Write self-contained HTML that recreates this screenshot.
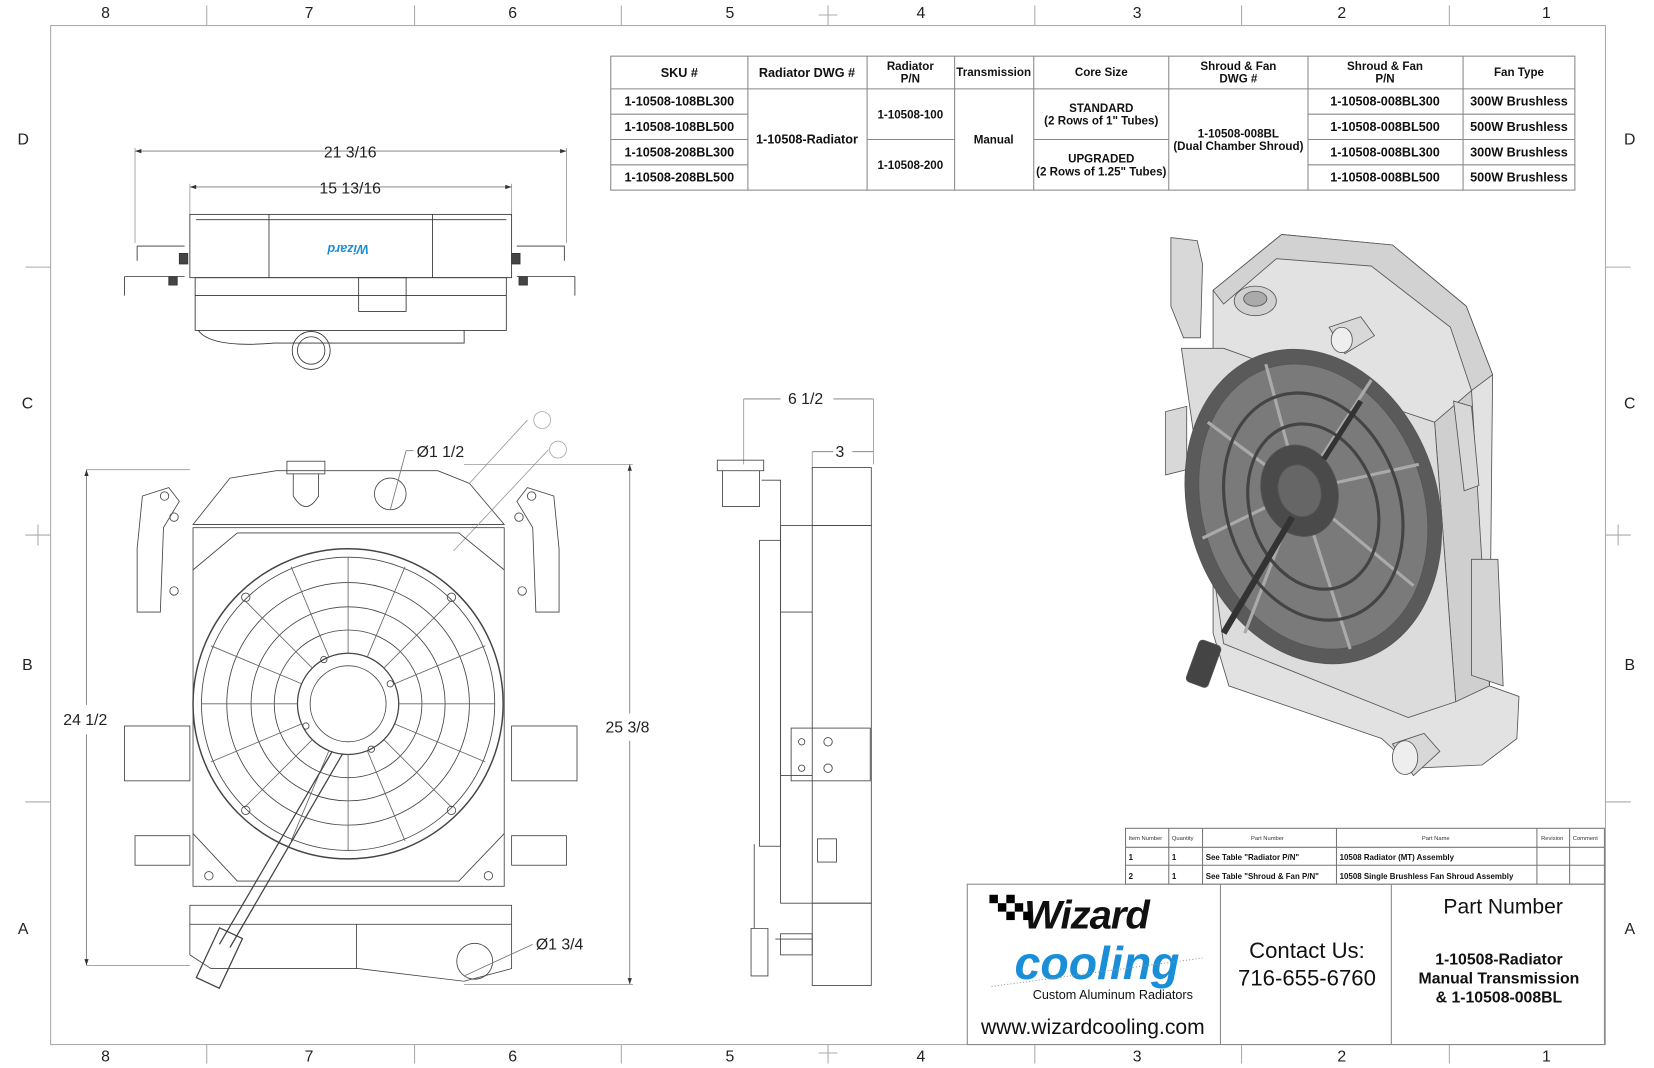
<!DOCTYPE html>
<html><head><meta charset="utf-8"><style>
html,body{margin:0;padding:0;background:#fff;}
svg{display:block;}
text{font-family:"Liberation Sans",Arial,sans-serif;}
</style></head><body>
<svg width="1654" height="1068" viewBox="0 0 1568 1012" xmlns="http://www.w3.org/2000/svg">
<rect width="1568" height="1012" fill="#fff"/>
<!-- border -->
<rect x="48" y="24" width="1474" height="966" fill="none" stroke="#aaa" stroke-width="1"/>
<g stroke="#aaa" stroke-width="1">
<line x1="196" y1="5" x2="196" y2="24"/><line x1="393" y1="5" x2="393" y2="24"/><line x1="589" y1="5" x2="589" y2="24"/><line x1="981" y1="5" x2="981" y2="24"/><line x1="1177" y1="5" x2="1177" y2="24"/><line x1="1374" y1="5" x2="1374" y2="24"/>
<line x1="196" y1="990" x2="196" y2="1008"/><line x1="393" y1="990" x2="393" y2="1008"/><line x1="589" y1="990" x2="589" y2="1008"/><line x1="981" y1="990" x2="981" y2="1008"/><line x1="1177" y1="990" x2="1177" y2="1008"/><line x1="1374" y1="990" x2="1374" y2="1008"/>
<line x1="785" y1="5" x2="785" y2="24"/><line x1="776" y1="14" x2="794" y2="14"/><line x1="785" y1="990" x2="785" y2="1008"/><line x1="776" y1="998" x2="794" y2="998"/>
<line x1="24" y1="253" x2="48" y2="253"/><line x1="24" y1="760" x2="48" y2="760"/><line x1="1522" y1="253" x2="1546" y2="253"/><line x1="1522" y1="760" x2="1546" y2="760"/>
<line x1="24" y1="507" x2="48" y2="507"/><line x1="36" y1="497" x2="36" y2="517"/><line x1="1522" y1="507" x2="1546" y2="507"/><line x1="1534" y1="497" x2="1534" y2="517"/>
</g>
<g font-size="15" fill="#222" text-anchor="middle">
<text x="100" y="17">8</text><text x="293" y="17">7</text><text x="486" y="17">6</text><text x="692" y="17">5</text><text x="873" y="17">4</text><text x="1078" y="17">3</text><text x="1272" y="17">2</text><text x="1466" y="17">1</text>
<text x="100" y="1006">8</text><text x="293" y="1006">7</text><text x="486" y="1006">6</text><text x="692" y="1006">5</text><text x="873" y="1006">4</text><text x="1078" y="1006">3</text><text x="1272" y="1006">2</text><text x="1466" y="1006">1</text>
<text x="22" y="137">D</text><text x="26" y="387">C</text><text x="26" y="635">B</text><text x="22" y="885">A</text>
<text x="1545" y="137">D</text><text x="1545" y="387">C</text><text x="1545" y="635">B</text><text x="1545" y="885">A</text>
</g>

<!-- SKU table -->
<g stroke="#888" stroke-width="1" fill="none">
<rect x="579" y="53" width="914" height="127"/>
<line x1="579" y1="84" x2="1493" y2="84"/>
<line x1="579" y1="108" x2="709" y2="108"/><line x1="579" y1="132" x2="709" y2="132"/><line x1="579" y1="156" x2="709" y2="156"/>
<line x1="1240" y1="108" x2="1493" y2="108"/><line x1="1240" y1="132" x2="1493" y2="132"/><line x1="1240" y1="156" x2="1493" y2="156"/>
<line x1="822" y1="132" x2="905" y2="132"/><line x1="980" y1="132" x2="1108" y2="132"/>
<line x1="709" y1="53" x2="709" y2="180"/><line x1="822" y1="53" x2="822" y2="180"/><line x1="905" y1="53" x2="905" y2="180"/><line x1="980" y1="53" x2="980" y2="180"/><line x1="1108" y1="53" x2="1108" y2="180"/><line x1="1240" y1="53" x2="1240" y2="180"/><line x1="1387" y1="53" x2="1387" y2="180"/>
</g>
<g font-size="12" fill="#111" text-anchor="middle" font-weight="bold">
<text x="644" y="73">SKU #</text><text x="765" y="73">Radiator DWG #</text>
<text x="863" y="66" font-size="11">Radiator</text><text x="863" y="78" font-size="11">P/N</text>
<text x="942" y="72" font-size="11">Transmission</text><text x="1044" y="72" font-size="11">Core Size</text>
<text x="1174" y="66" font-size="11">Shroud &amp; Fan</text><text x="1174" y="78" font-size="11">DWG #</text>
<text x="1313" y="66" font-size="11">Shroud &amp; Fan</text><text x="1313" y="78" font-size="11">P/N</text>
<text x="1440" y="72" font-size="11">Fan Type</text>
<text x="644" y="100">1-10508-108BL300</text><text x="644" y="124">1-10508-108BL500</text><text x="644" y="148">1-10508-208BL300</text><text x="644" y="172">1-10508-208BL500</text>
<text x="765" y="136">1-10508-Radiator</text>
<text x="863" y="112" font-size="11">1-10508-100</text><text x="863" y="160" font-size="11">1-10508-200</text>
<text x="942" y="136" font-size="11">Manual</text>
<text x="1044" y="106" font-size="11">STANDARD</text><text x="1044" y="118" font-size="11">(2 Rows of 1" Tubes)</text>
<text x="1044" y="154" font-size="11">UPGRADED</text><text x="1044" y="166" font-size="11">(2 Rows of 1.25" Tubes)</text>
<text x="1174" y="130" font-size="11">1-10508-008BL</text><text x="1174" y="142" font-size="11">(Dual Chamber Shroud)</text>
<text x="1313" y="100">1-10508-008BL300</text><text x="1313" y="124">1-10508-008BL500</text><text x="1313" y="148">1-10508-008BL300</text><text x="1313" y="172">1-10508-008BL500</text>
<text x="1440" y="100">300W Brushless</text><text x="1440" y="124">500W Brushless</text><text x="1440" y="148">300W Brushless</text><text x="1440" y="172">500W Brushless</text>
</g>

<!-- BOM -->
<g stroke="#777" stroke-width="1" fill="none">
<rect x="1067" y="785" width="454" height="53"/>
<line x1="1067" y1="803" x2="1521" y2="803"/><line x1="1067" y1="820" x2="1521" y2="820"/>
<line x1="1108" y1="785" x2="1108" y2="838"/><line x1="1140" y1="785" x2="1140" y2="838"/><line x1="1267" y1="785" x2="1267" y2="838"/><line x1="1457" y1="785" x2="1457" y2="838"/><line x1="1488" y1="785" x2="1488" y2="838"/>
</g>
<g font-size="5.5" fill="#333">
<text x="1070" y="796">Item Number</text><text x="1111" y="796">Quantity</text><text x="1186" y="796">Part Number</text><text x="1348" y="796">Part Name</text><text x="1461" y="796">Revision</text><text x="1491" y="796">Comment</text>
</g>
<g font-size="7.5" fill="#111" font-weight="bold">
<text x="1070" y="815">1</text><text x="1111" y="815">1</text><text x="1143" y="815">See Table "Radiator P/N"</text><text x="1270" y="815">10508 Radiator (MT) Assembly</text>
<text x="1070" y="833">2</text><text x="1111" y="833">1</text><text x="1143" y="833">See Table "Shroud &amp; Fan P/N"</text><text x="1270" y="833">10508 Single Brushless Fan Shroud Assembly</text>
</g>

<!-- title block -->
<g stroke="#888" stroke-width="1" fill="none">
<rect x="917" y="838" width="604" height="152"/>
<line x1="1157" y1="838" x2="1157" y2="990"/><line x1="1319" y1="838" x2="1319" y2="990"/>
</g>
<text x="1030" y="880" font-size="38" font-weight="bold" font-style="italic" fill="#111" text-anchor="middle" letter-spacing="-1">Wizard</text>
<g fill="#000"><rect x="938" y="848" width="8" height="8"/><rect x="954" y="848" width="8" height="8"/><rect x="946" y="856" width="8" height="8"/><rect x="962" y="856" width="8" height="8"/><rect x="954" y="864" width="8" height="8"/><rect x="970" y="864" width="8" height="8"/></g>
<text x="1040" y="928" font-size="44" font-style="italic" font-weight="bold" fill="#1a8fd8" text-anchor="middle" font-family="Liberation Serif,serif">cooling</text>
<line x1="940" y1="935" x2="1140" y2="908" stroke="#999" stroke-dasharray="1,2"/>
<text x="1055" y="947" font-size="12" fill="#111" text-anchor="middle">Custom Aluminum Radiators</text>
<text x="1036" y="980" font-size="20" fill="#111" text-anchor="middle">www.wizardcooling.com</text>
<text x="1239" y="908" font-size="21" fill="#111" text-anchor="middle">Contact Us:</text>
<text x="1239" y="934" font-size="21" fill="#111" text-anchor="middle">716-655-6760</text>
<text x="1425" y="866" font-size="20" fill="#111" text-anchor="middle">Part Number</text>
<g font-size="15" font-weight="bold" fill="#111" text-anchor="middle"><text x="1421" y="914">1-10508-Radiator</text><text x="1421" y="932">Manual Transmission</text><text x="1421" y="950">&amp; 1-10508-008BL</text></g>

<!-- top view -->
<g stroke="#333" stroke-width="0.8" fill="none">
<line x1="128" y1="143" x2="537" y2="143" stroke="#777"/><line x1="128" y1="140" x2="128" y2="230" stroke="#999"/><line x1="537" y1="140" x2="537" y2="230" stroke="#999"/>
<line x1="180" y1="177" x2="485" y2="177" stroke="#777"/><line x1="180" y1="174" x2="180" y2="205" stroke="#999"/><line x1="485" y1="174" x2="485" y2="205" stroke="#999"/>
<rect x="180" y="203" width="305" height="60"/>
<line x1="186" y1="208" x2="480" y2="208"/><line x1="255" y1="203" x2="255" y2="263"/><line x1="410" y1="203" x2="410" y2="263"/>
<rect x="185" y="263" width="295" height="50"/><line x1="185" y1="280" x2="480" y2="280"/>
<rect x="340" y="263" width="45" height="32"/>
<path d="M130 233 H175 M130 233 V247 M490 233 H535 V247 M118 262 L175 262 M118 262 V280 M490 262 L545 262 V280"/>
<path d="M188 313 Q200 330 260 325 L440 325 L440 313"/>
<circle cx="295" cy="332" r="18"/><circle cx="295" cy="332" r="13"/>
<rect x="170" y="240" width="8" height="10" fill="#444"/><rect x="485" y="240" width="8" height="10" fill="#444"/>
<rect x="160" y="262" width="8" height="8" fill="#444"/><rect x="492" y="262" width="8" height="8" fill="#444"/>
</g>
<g fill="#333"><path d="M128 143 l6 -2 v4z M537 143 l-6 -2 v4z M180 177 l6 -2 v4z M485 177 l-6 -2 v4z"/></g>
<text x="330" y="240" font-size="12" font-style="italic" font-weight="bold" fill="#1a8fd8" text-anchor="middle" transform="rotate(180 330 236)">Wizard</text>
<g font-size="15" fill="#222" text-anchor="middle"><text x="332" y="149">21 3/16</text><text x="332" y="183">15 13/16</text></g>

<!-- front view -->
<g stroke="#444" stroke-width="0.8" fill="none">
<line x1="82" y1="445" x2="180" y2="445" stroke="#999"/><line x1="82" y1="915" x2="180" y2="915" stroke="#999"/>
<line x1="82" y1="445" x2="82" y2="668" stroke="#777"/><line x1="82" y1="696" x2="82" y2="915" stroke="#777"/>
<line x1="440" y1="440" x2="600" y2="440" stroke="#999"/><line x1="440" y1="933" x2="600" y2="933" stroke="#999"/>
<line x1="597" y1="440" x2="597" y2="676" stroke="#777"/><line x1="597" y1="702" x2="597" y2="933" stroke="#777"/>
<path d="M183 497 L218 453 L262 446 L415 446 L445 458 L478 497 Z"/>
<line x1="183" y1="497" x2="478" y2="497"/>
<rect x="272" y="437" width="36" height="12"/><path d="M278 449 V470 Q290 490 302 470 V449"/>
<circle cx="370" cy="468" r="15"/>
<line x1="370" y1="483" x2="385" y2="427" stroke="#777"/><line x1="385" y1="427" x2="392" y2="427" stroke="#777"/>
<line x1="445" y1="458" x2="500" y2="398" stroke="#999"/><circle cx="514" cy="398" r="8" stroke="#aaa"/>
<line x1="430" y1="522" x2="520" y2="426" stroke="#999"/><circle cx="529" cy="426" r="8" stroke="#aaa"/>
<rect x="183" y="500" width="295" height="340"/>
<path d="M183 540 L225 505 L435 505 L478 540 M183 790 L225 835 L435 835 L478 790"/>
<circle cx="330" cy="667" r="147" stroke-width="1.4"/><circle cx="330" cy="667" r="139"/>
<circle cx="330" cy="667" r="115"/><circle cx="330" cy="667" r="92"/><circle cx="330" cy="667" r="70"/>
<circle cx="330" cy="667" r="48" stroke-width="1.2"/><circle cx="330" cy="667" r="36"/>
<g stroke="#666"><line x1="330" y1="619" x2="330" y2="528"/><line x1="330" y1="715" x2="330" y2="806"/><line x1="282" y1="667" x2="191" y2="667"/><line x1="378" y1="667" x2="469" y2="667"/><line x1="296" y1="633" x2="232" y2="569"/><line x1="364" y1="633" x2="428" y2="569"/><line x1="296" y1="701" x2="232" y2="765"/><line x1="364" y1="701" x2="428" y2="765"/><line x1="286" y1="648" x2="200" y2="612"/><line x1="374" y1="686" x2="460" y2="722"/><line x1="312" y1="623" x2="276" y2="537"/><line x1="348" y1="711" x2="384" y2="797"/><line x1="374" y1="648" x2="460" y2="612"/><line x1="286" y1="686" x2="200" y2="722"/><line x1="348" y1="623" x2="384" y2="537"/><line x1="312" y1="711" x2="276" y2="797"/></g>
<g stroke="#444"><circle cx="233" cy="566" r="4"/><circle cx="428" cy="566" r="4"/><circle cx="233" cy="768" r="4"/><circle cx="428" cy="768" r="4"/><circle cx="307" cy="625" r="3"/><circle cx="370" cy="648" r="3"/><circle cx="290" cy="688" r="3"/><circle cx="352" cy="710" r="3"/></g>
<path d="M315 712 L208 895 M325 714 L218 898" stroke-width="1.2"/>
<rect x="196" y="882" width="24" height="52" transform="rotate(25 208 908)" stroke-width="1.2"/>
<path d="M135 470 L160 462 L170 475 L155 500 L152 580 L130 580 L130 520 Z"/>
<path d="M525 470 L500 462 L490 475 L505 500 L508 580 L530 580 L530 520 Z"/>
<rect x="118" y="688" width="62" height="52"/><rect x="485" y="688" width="62" height="52"/>
<rect x="128" y="792" width="52" height="28"/><rect x="485" y="792" width="52" height="28"/>
<rect x="180" y="858" width="305" height="18"/>
<path d="M180 876 V905 L200 918 L340 918 L440 930 L485 918 V876 M338 876 V918"/>
<circle cx="450" cy="911" r="17"/>
<line x1="440" y1="925" x2="505" y2="895" stroke="#777"/>
<circle cx="156" cy="470" r="4"/><circle cx="504" cy="470" r="4"/>
<circle cx="165" cy="490" r="4"/><circle cx="492" cy="490" r="4"/><circle cx="165" cy="560" r="4"/><circle cx="495" cy="560" r="4"/>
<circle cx="198" cy="830" r="4"/><circle cx="463" cy="830" r="4"/>
</g>
<g fill="#333"><path d="M82 445 l-2 6 h4z M82 915 l-2 -6 h4z M597 440 l-2 6 h4z M597 933 l-2 -6 h4z"/></g>
<g font-size="15" fill="#222"><text x="395" y="433">Ø1 1/2</text><text x="508" y="900">Ø1 3/4</text><text x="60" y="687">24 1/2</text><text x="574" y="694">25 3/8</text></g>

<!-- side view -->
<g stroke="#444" stroke-width="0.8" fill="none">
<line x1="705" y1="378" x2="705" y2="440" stroke="#999"/><line x1="828" y1="378" x2="828" y2="440" stroke="#999"/>
<line x1="705" y1="378" x2="740" y2="378" stroke="#777"/><line x1="790" y1="378" x2="828" y2="378" stroke="#777"/>
<line x1="770" y1="428" x2="790" y2="428" stroke="#777"/><line x1="808" y1="428" x2="828" y2="428" stroke="#777"/><line x1="770" y1="428" x2="770" y2="445" stroke="#999"/>
<rect x="770" y="443" width="56" height="55"/><rect x="680" y="436" width="44" height="10"/><path d="M685 446 V480 H720 V446 M722 455 H740 V520"/>
<rect x="740" y="498" width="86" height="358"/><line x1="770" y1="498" x2="770" y2="856"/>
<rect x="720" y="512" width="20" height="290"/><line x1="740" y1="580" x2="770" y2="580"/><line x1="740" y1="735" x2="770" y2="735"/>
<rect x="750" y="690" width="75" height="50"/><circle cx="785" cy="703" r="4"/><circle cx="785" cy="728" r="4"/><circle cx="760" cy="703" r="3"/><circle cx="760" cy="728" r="3"/>
<rect x="770" y="856" width="56" height="78"/><path d="M715 800 V880 M712 880 V925 H728 V880 Z"/>
<rect x="775" y="795" width="18" height="22"/>
<line x1="735" y1="890" x2="770" y2="890"/><rect x="740" y="885" width="30" height="20"/>
</g>
<g font-size="15" fill="#222"><text x="747" y="383">6 1/2</text><text x="792" y="433">3</text></g>

<!-- iso view -->
<g stroke="#555" stroke-width="0.8">
<path d="M1150 275 L1215 222 L1320 232 L1390 290 L1415 355 L1412 650 L1440 660 L1438 700 L1405 725 L1340 728 L1310 700 L1165 650 L1150 600 Z" fill="#e2e2e2"/>
<path d="M1150 275 L1215 222 L1320 232 L1390 290 L1415 355 L1395 370 L1375 310 L1300 252 L1210 245 L1160 288 Z" fill="#d2d2d2"/>
<path d="M1360 400 L1395 370 L1412 650 L1380 665 Z" fill="#cfcfcf"/>
<path d="M1120 330 L1160 330 L1300 380 L1360 400 L1380 665 L1335 680 L1160 610 Z" fill="#dcdcdc"/>
<path d="M1110 225 L1135 228 L1140 250 L1138 320 L1122 320 L1110 290 Z" fill="#d8d8d8"/>
<path d="M1105 390 L1125 385 L1125 445 L1105 450 Z" fill="#d8d8d8"/>
<path d="M1378 380 L1395 385 L1402 460 L1388 465 Z" fill="#d8d8d8"/>
<path d="M1395 530 L1420 530 L1425 650 L1395 640 Z" fill="#d4d4d4"/>
<ellipse cx="1190" cy="285" rx="20" ry="14" fill="#d0d0d0"/><ellipse cx="1190" cy="283" rx="11" ry="7" fill="#aaa"/>
<path d="M1260 310 L1290 300 L1303 318 L1275 335 Z" fill="#d8d8d8"/><ellipse cx="1272" cy="322" rx="10" ry="12" fill="#eee"/>
<path d="M1320 705 L1350 695 L1365 712 L1340 735 Z" fill="#d8d8d8"/><ellipse cx="1332" cy="718" rx="12" ry="16" fill="#eee"/>
<ellipse cx="1245" cy="480" rx="118" ry="152" transform="rotate(-18 1245 480)" fill="#5a5a5a"/>
<ellipse cx="1245" cy="480" rx="105" ry="138" transform="rotate(-18 1245 480)" fill="#7a7a7a"/>
<g stroke="#aaa" stroke-width="3"><line x1="1232" y1="465" x2="1200" y2="345"/><line x1="1232" y1="465" x2="1300" y2="360"/><line x1="1232" y1="465" x2="1345" y2="440"/><line x1="1232" y1="465" x2="1340" y2="555"/><line x1="1232" y1="465" x2="1280" y2="615"/><line x1="1232" y1="465" x2="1180" y2="600"/><line x1="1232" y1="465" x2="1140" y2="510"/><line x1="1232" y1="465" x2="1145" y2="400"/></g>
<ellipse cx="1245" cy="480" rx="82" ry="110" transform="rotate(-18 1245 480)" fill="none" stroke="#444" stroke-width="3"/>
<ellipse cx="1245" cy="480" rx="60" ry="80" transform="rotate(-18 1245 480)" fill="none" stroke="#444" stroke-width="3"/>
<ellipse cx="1232" cy="465" rx="36" ry="44" transform="rotate(-18 1232 465)" fill="#4a4a4a"/>
<ellipse cx="1232" cy="465" rx="20" ry="25" transform="rotate(-18 1232 465)" fill="#666"/>
<path d="M1225 490 L1160 600" stroke="#333" stroke-width="6"/><path d="M1255 435 L1290 380" stroke="#333" stroke-width="5"/>
<rect x="1130" y="608" width="22" height="42" rx="4" transform="rotate(20 1141 629)" fill="#444"/>
</g>
</svg>
</body></html>
